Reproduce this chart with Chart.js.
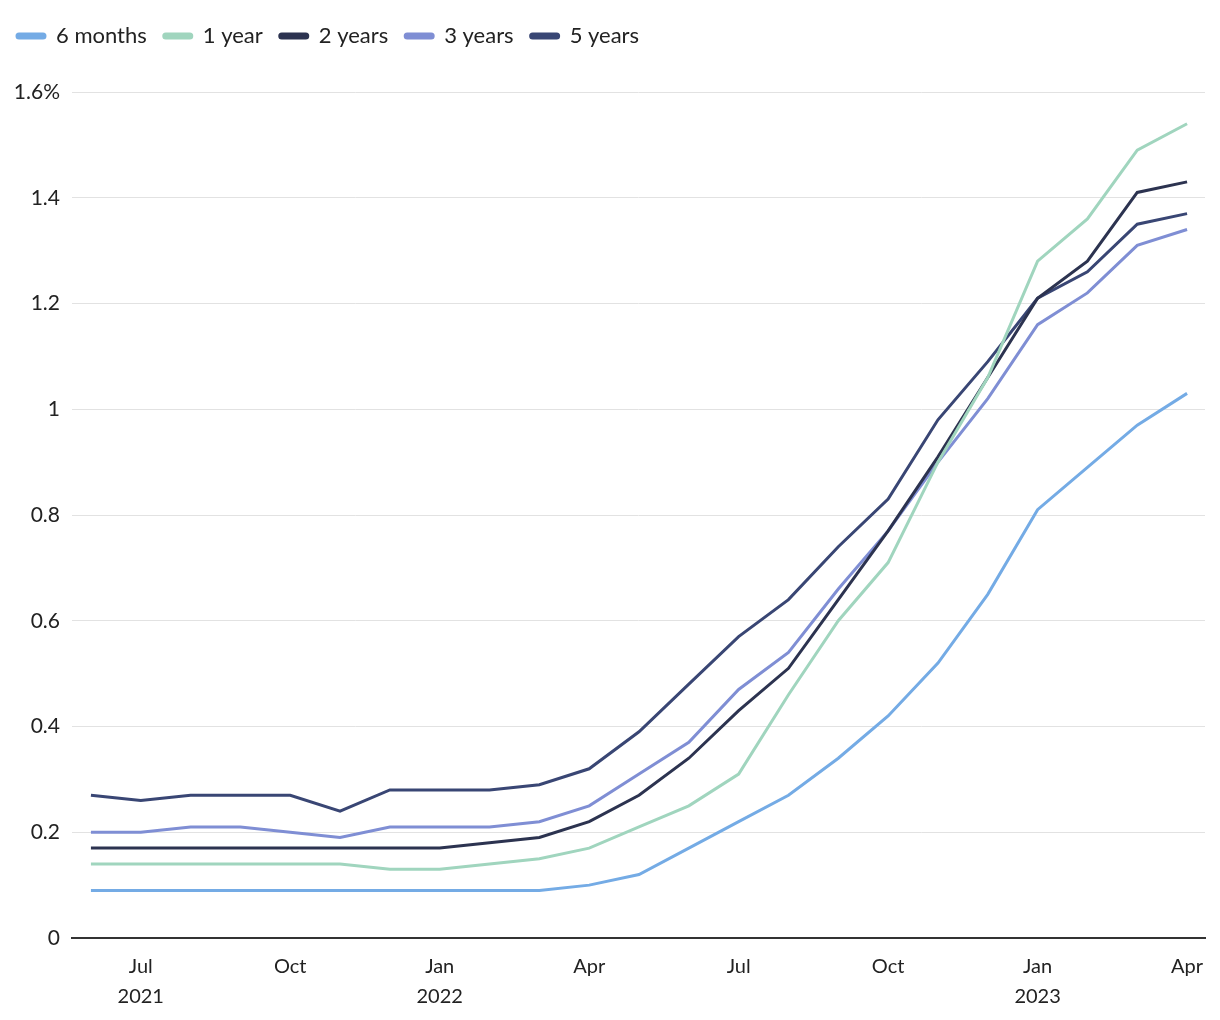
<!DOCTYPE html>
<html>
<head>
<meta charset="utf-8">
<script src="https://cdn.jsdelivr.net/npm/chart.js"></script>
<style>
  body { margin: 0; background: #fff; }
  #wrap { width: 1220px; height: 1020px; }
</style>
</head>
<body>
<div id="wrap"><canvas id="yieldChart"></canvas></div>
<script>
// months Jun 2021 .. Apr 2023
const months = ['Jun 2021','Jul 2021','Aug 2021','Sep 2021','Oct 2021','Nov 2021','Dec 2021',
  'Jan 2022','Feb 2022','Mar 2022','Apr 2022','May 2022','Jun 2022','Jul 2022','Aug 2022',
  'Sep 2022','Oct 2022','Nov 2022','Dec 2022','Jan 2023','Feb 2023','Mar 2023','Apr 2023'];

const sixMonths = [0.09,0.09,0.09,0.09,0.09,0.09,0.09,0.09,0.09,0.09,0.10,0.12,0.17,0.22,0.27,0.34,0.42,0.52,0.65,0.81,0.89,0.97,1.03];
const oneYear   = [0.14,0.14,0.14,0.14,0.14,0.14,0.13,0.13,0.14,0.15,0.17,0.21,0.25,0.31,0.46,0.60,0.71,0.90,1.06,1.28,1.36,1.49,1.54];
const twoYears  = [0.17,0.17,0.17,0.17,0.17,0.17,0.17,0.17,0.18,0.19,0.22,0.27,0.34,0.43,0.51,0.64,0.77,0.91,1.06,1.21,1.28,1.41,1.43];
const threeYears= [0.20,0.20,0.21,0.21,0.20,0.19,0.21,0.21,0.21,0.22,0.25,0.31,0.37,0.47,0.54,0.66,0.77,0.90,1.02,1.16,1.22,1.31,1.34];
const fiveYears = [0.27,0.26,0.27,0.27,0.27,0.24,0.28,0.28,0.28,0.29,0.32,0.39,0.48,0.57,0.64,0.74,0.83,0.98,1.09,1.21,1.26,1.35,1.37];

// tick labels on the x axis (month index -> label lines)
const xTickIndex = [1, 4, 7, 10, 13, 16, 19, 22];
const xTickLabels = [['Jul','2021'], 'Oct', ['Jan','2022'], 'Apr', 'Jul', 'Oct', ['Jan','2023'], 'Apr'];

function series(label, values, color) {
  return {
    label: label,
    data: values.map((v, i) => ({ x: i, y: v })),
    borderColor: color,
    backgroundColor: color,
    borderWidth: 3,
    pointRadius: 0,
    tension: 0
  };
}

const legendHeight = {
  id: 'legendHeight',
  beforeInit(chart) {
    const fit = chart.legend.fit;
    chart.legend.fit = function () {
      fit.bind(chart.legend)();
      this.height = 84;
    };
  }
};

const ctx = document.getElementById('yieldChart').getContext('2d');
new Chart(ctx, {
  type: 'line',
  data: {
    datasets: [
      series('6 months', sixMonths, '#74abe5'),
      series('1 year', oneYear, '#a0d5be'),
      series('2 years', twoYears, '#2c3350'),
      series('3 years', threeYears, '#7f8ed4'),
      series('5 years', fiveYears, '#394674')
    ]
  },
  options: {
    responsive: true,
    maintainAspectRatio: false,
    animation: false,
    layout: { padding: { left: 0, right: 15, top: 8, bottom: 0 } },
    plugins: {
      legend: {
        position: 'top',
        align: 'start',
        labels: {
          boxWidth: 28,
          boxHeight: 4,
          useBorderRadius: true,
          borderRadius: 2,
          padding: 17,
          color: '#222',
          font: { family: 'Lato', size: 22 }
        }
      },
      tooltip: { enabled: false }
    },
    scales: {
      x: {
        type: 'linear',
        min: -0.38,
        max: 22.36,
        afterBuildTicks(scale) {
          scale.ticks = xTickIndex.map(v => ({ value: v }));
        },
        afterFit(scale) { scale.height = 82; },
        grid: { display: false, drawTicks: false },
        border: { color: '#333', width: 2 },
        ticks: {
          autoSkip: false,
          maxRotation: 0,
          padding: 14,
          color: '#222',
          font: { family: 'Lato', size: 20, lineHeight: 1.5 },
          callback(value) {
            const k = xTickIndex.indexOf(value);
            return k >= 0 ? xTickLabels[k] : '';
          }
        }
      },
      y: {
        min: 0,
        max: 1.6,
        afterFit(scale) { scale.width = 72; },
        grid: { color: '#e2e2e2', lineWidth: 1, drawTicks: false },
        border: { display: false },
        ticks: {
          stepSize: 0.2,
          padding: 12,
          color: '#222',
          font: { family: 'Lato', size: 21 },
          callback(value) {
            const v = Number(value.toFixed(1));
            return v === 1.6 ? '1.6%' : String(v);
          }
        }
      }
    }
  },
  plugins: [legendHeight]
});
</script>
</body>
</html>
